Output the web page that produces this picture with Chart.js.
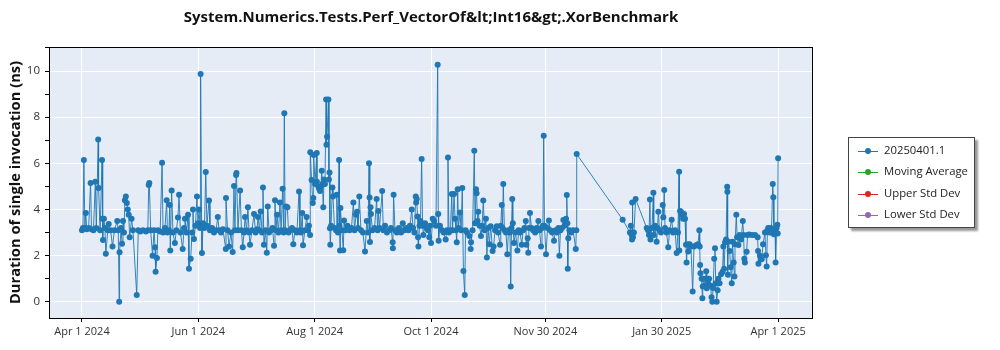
<!DOCTYPE html>
<html>
<head>
<meta charset="utf-8">
<script src="https://cdn.jsdelivr.net/npm/chart.js@4.4.1/dist/chart.umd.min.js"></script>
<style>
  body { margin: 0; background: #fff; }
  #wrap { position: relative; width: 1000px; height: 350px; }
  #legend {
    position: absolute; left: 848px; top: 137px; width: 125px; height: 89px;
    border: 1px solid #444; background: #fff; box-shadow: 3px 3px 2px #999;
    font-family: "Open Sans", sans-serif; font-size: 11.3px; color: #222;
  }
  .item { position: absolute; left: 9px; height: 14px; line-height: 14px; }
  .item .ln { position: absolute; left: 0; top: 7px; width: 20px; height: 1px; }
  .item .dt { position: absolute; left: 7px; top: 4px; width: 6px; height: 6px; border-radius: 3px; }
  .item span { position: absolute; left: 26px; top: -1px; white-space: nowrap; }
</style>
</head>
<body>
<div id="wrap">
  <canvas id="chart" width="1000" height="350"></canvas>
  <div id="legend"></div>
</div>
<script>
// days since Apr 1 2024, and duration in ns
const days = [
  0, 0.5, 1, 1.5, 2, 2.5, 3.5, 4.5, 5, 6, 7, 7.5, 8.5, 8.7, 9.5, 10.5, 10.7, 11, 11.5, 12, 12.5, 13.5, 14, 15, 16, 17, 18.5, 19, 19.5, 19.7,
  20.5, 21, 21.5, 22, 22.5, 23, 23.5, 24, 24.5, 25, 26, 26.7, 28.7, 29.5, 30.5, 32, 33.5, 34.5, 35, 35.3, 36, 37, 37.8, 38.3, 38.6, 39.3, 39.8, 41, 42, 42.5,
  43.5, 44.4, 44.8, 45.6, 46, 46.3, 47, 47.7, 48.7, 49.5, 50.3, 50.9, 51.6, 52.8, 53.5, 54, 54.8, 55.6, 56.1, 57, 57.7, 58.2, 58.7, 59.5, 60.3, 60.8, 61.4, 61.9, 62.2, 62.7,
  62.9, 63.5, 64.2, 64.9, 65.5, 66.6, 67.1, 68.2, 69.2, 70.3, 71.2, 71.9, 72.9, 73.9, 75.4, 75.5, 76.3, 77.1, 78.1, 79, 79.7, 80.2, 80.8, 81, 81.8, 82.9, 83.6, 84.3, 85, 85.5,
  86.3, 87, 87.6, 88.1, 89.1, 90.2, 91, 91.8, 92.3, 93.1, 93.7, 94.4, 94.9, 95.4, 96.2, 96.9, 97.4, 98.1, 99.1, 99.9, 100.7,
  101.2, 101.7, 102.3, 103, 103.8, 104.4, 105.2, 105.7, 106.1, 106.5, 107, 107.7, 108.3, 109.1, 110.1, 110.8, 111.7, 112.7, 113.8, 114.3, 114.8, 115.5, 115.9, 116.9, 117.8,
  118.5, 119, 119.6, 119.7, 120.4, 121, 121.3, 121.5, 122.2, 123.1, 123.2, 123.9, 124.3, 124.8, 125.3, 125.7, 126.1, 126.5, 126.9, 127.4, 128, 128.2, 128.5, 129.2, 129.5,
  129.8, 130, 130.2, 130.6, 131.3, 131.6, 132.4, 133.2, 133.6, 134.2, 134.8, 135, 135.3, 135.5, 136.3, 137, 137.4, 138.1, 139.2, 140.3, 141.3, 142.3, 142.9, 143.7, 144.2,
  144.7, 145.4, 146.3, 147.3, 148.4, 149.3, 150, 150.5, 150.8, 151, 151.3, 151.5, 152.3, 153.4, 154.5, 155, 155.4, 156, 157.4,
  158, 158.9, 159.9, 161, 162, 162.9, 163, 163.4, 164.1, 165.1, 166.2, 167.3, 168.2, 169.1, 170.2, 171.2, 172, 172.9, 173.6, 174.3, 175, 175.2, 175.5, 175.9, 176.2, 176.4,
  177, 177.5, 178.1, 178.6, 179, 179.9, 180.6, 181.4, 182.1, 182.5, 183, 183.9, 184.6, 185.6, 186.5, 186.8, 187, 187.7, 188.8, 189.6, 190.7, 191.4, 191.9, 192.4, 193.2,
  193.9, 194.3, 195.1, 195.6, 196.1, 196.5, 197, 197.4, 198.2, 198.8, 199.4, 200, 200.7, 201.1, 201.9, 203.1, 203.8, 204, 204.8, 205.7, 206.1, 206.6, 206.9, 207.4, 207.8,
  208.5, 209.2, 209.8, 210.4, 211.1, 211.8, 212.3, 212.9, 213.6, 214.3, 215.3, 215.8,
  216.6, 217.5, 218.2, 219.2, 219.6, 220.1, 220.5, 220.9, 221.5, 222.3, 223, 223.6, 224.4, 224.8, 225.2, 225.6, 225.9, 226.5, 227.3, 228.3, 228.9, 229.7, 230.6, 231.3, 232,
  232.7, 233, 233.7, 234, 234.4, 234.9, 235.7, 236.5, 237.6, 238.4, 239.3, 239.9, 240.7, 241.2, 241.7, 242.1, 242.5, 243.3, 244.1, 244.8, 245.6, 246.5, 247.5, 248.3, 249.1,
  249.8, 250.3, 250.9, 251.7, 252.4, 253, 253.8, 254.2, 254.5, 254.7, 255, 255.6, 256.5, 257.5, 258.9, 259.2, 259.4,
  283.5, 287.3, 287.8, 288.2, 288.4, 288.5, 288.9, 289.4, 290.3, 296.1, 296.8, 297.3, 297.8, 298.1, 298.9, 299.6, 299.8, 300.5, 301.3, 301.8, 302.2, 302.8, 303.6, 304.5,
  304.8, 305.3, 305.7, 306.5, 307.4, 308.1, 309.2, 309.9, 311, 311.8, 312.5, 313.1, 313.2, 313.6, 314.1, 314.6, 315.2, 315.7, 316.2, 316.7, 317, 317.5, 317.9, 318.6, 319.3,
  320.2, 320.9, 322, 323, 323.7, 323.9, 324.1, 324.3, 324.9, 325.3, 325.5, 325.9, 326.4, 327, 327.3, 327.6, 328.3, 328.8, 329.6, 330.1, 330.5, 330.9, 331.5, 331.9, 332.3,
  332.8, 333.3, 333.7, 334.3, 335.1, 335.9, 336.3, 336.7, 337.2, 337.7, 338.3, 338.4, 338.7, 338.9, 339.6, 340.1, 340.7, 341.1, 341.7, 342.1, 342.4, 343.1, 343.5, 344.2,
  344.8, 345.6, 346.5, 346.9, 347.3, 347.6, 348.5, 349, 349.8, 351.3, 352.9, 354.3, 354.5, 354.7, 355.5, 356.4, 357.1, 358.1, 358.6, 359, 359.4, 359.8, 360.5, 361.1, 361.5,
  362.2, 362.5, 362.8, 363.4, 363.7, 364.2, 364.6, 364.8, 365
];
const durations = [
  3.1, 3.2, 6.15, 3.2, 3.85, 3.15, 3.2, 5.15, 3.15, 3.1, 5.2, 3.2, 7.03, 4.93, 3.1, 6.15, 3.6, 2.68, 3.6, 3.2, 2.08, 3.1, 3.37, 3.1, 2.4, 3.1, 3.5, 3.1, 0.0, 2.15,
  3.2, 2.52, 3.5, 3.0, 4.4, 4.56, 4.28, 4.0, 3.77, 2.8, 3.6, 3.1, 0.3, 3.1, 3.05, 3.1, 3.05, 3.1, 5.06, 5.15, 3.1, 2.0, 3.1, 2.37, 1.3, 1.9, 3.1, 3.05, 6.03, 3.0,
  3.2, 4.4, 3.0, 3.1, 4.2, 2.22, 4.82, 3.0, 2.55, 3.1, 3.65, 4.64, 3.0, 2.29, 3.2, 3.6, 3.0, 3.77, 1.43, 1.87, 3.0, 4.0, 2.72, 3.3, 4.56, 3.4, 4.0, 3.2, 9.87, 3.3,
  2.12, 3.4, 3.2, 5.63, 3.3, 4.39, 3.1, 3.2, 3.0, 3.1, 3.68, 3.1, 3.0, 3.15, 2.29, 4.5, 3.1, 2.4, 3.0, 2.16, 5.02, 3.1, 5.5, 5.58, 3.1, 4.82, 3.1, 2.37, 3.0, 3.68,
  3.1, 4.1, 3.0, 2.47, 3.1, 3.8, 3.0, 3.15, 3.68, 3.1, 3.91, 3.0, 4.95, 2.47, 3.1, 2.13, 4.13, 3.0, 3.1, 3.2, 2.43,
  4.4, 3.1, 3.77, 3.0, 4.3, 3.1, 4.9, 3.0, 8.17, 3.1, 4.13, 4.1, 3.0, 3.1, 3.2, 2.5, 3.1, 3.0, 4.78, 3.1, 3.0, 3.85, 2.45, 3.1, 3.68,
  3.1, 3.3, 2.9, 6.48, 5.28, 4.28, 4.5, 6.36, 5.1, 6.45, 5.2, 5.0, 4.9, 4.8, 5.0, 5.68, 5.1, 4.1, 5.3, 5.1, 8.77, 6.8, 7.15, 8.77, 5.3,
  5.6, 3.19, 2.47, 3.3, 4.95, 4.56, 3.2, 3.1, 4.64, 3.0, 6.15, 3.3, 2.22, 4.07, 3.1, 2.24, 3.52, 3.1, 3.3, 3.1, 3.2, 4.3, 3.1, 3.77, 3.9,
  3.2, 4.56, 3.1, 3.0, 2.18, 3.5, 3.0, 6.0, 4.52, 2.59, 4.1, 3.8, 3.1, 3.2, 4.46, 3.1, 3.93, 3.2, 4.8,
  3.1, 3.3, 3.0, 3.1, 3.2, 2.58, 2.32, 4.64, 3.1, 3.0, 3.2, 3.0, 3.4, 3.1, 3.2, 3.1, 3.3, 4.0, 3.2, 3.0, 4.56, 4.3, 4.45, 3.7, 2.8, 2.4,
  3.3, 3.5, 6.19, 3.3, 2.9, 3.4, 3.2, 3.1, 2.8, 3.3, 2.55, 3.6, 3.5, 3.3, 10.27, 3.8, 2.65, 3.3, 3.1, 3.0, 2.7, 3.1, 6.25, 3.0, 3.1,
  4.67, 3.1, 4.67, 3.6, 3.1, 2.58, 4.88, 3.2, 3.87, 3.1, 4.93, 1.34, 0.3, 3.1, 3.0, 2.85, 2.29, 2.58, 3.1, 6.55, 3.4, 4.88, 4.7, 3.5, 3.9,
  3.3, 2.85, 3.3, 4.39, 3.1, 3.6, 1.92, 3.2, 2.5, 3.27, 2.2, 2.4,
  3.1, 3.27, 3.0, 2.47, 3.3, 4.2, 3.2, 5.1, 3.1, 3.0, 2.06, 3.1, 3.0, 0.66, 3.2, 4.46, 3.4, 2.55, 3.0, 2.22, 3.1, 3.0, 2.47, 3.1, 3.2,
  3.5, 2.47, 2.75, 2.13, 3.2, 3.85, 3.2, 3.1, 3.0, 3.2, 3.5, 3.1, 2.4, 3.2, 3.3, 7.2, 3.3, 2.06, 3.2, 3.52, 3.1, 3.0, 2.65, 3.1, 3.0,
  3.2, 2.0, 3.1, 3.2, 3.55, 3.3, 3.6, 4.63, 3.4, 1.43, 2.75, 3.1, 3.0, 3.1, 2.29, 3.1, 6.4,
  3.56, 3.0, 3.3, 2.9, 2.7, 4.3, 2.8, 3.0, 4.45, 3.2, 3.1, 2.9, 4.43, 2.7, 3.2, 4.73, 2.9, 3.3, 2.6, 3.2, 3.9, 3.1, 3.0, 4.2,
  3.67, 4.85, 3.2, 3.0, 2.37, 3.1, 3.56, 3.0, 3.1, 2.12, 3.0, 5.64, 2.22, 3.93, 3.9, 3.77, 3.6, 3.8, 3.6, 2.47, 1.7, 2.5, 2.18, 2.5, 2.4,
  0.45, 2.4, 2.45, 2.5, 3.1, 2.4, 1.6, 1.24, 1.0, 0.16, 0.66, 1.0, 0.7, 1.0, 1.32, 0.59, 0.8, 1.0, 0.7, 0.2, 0.0, 0.6, 1.87, 2.32, 0.8,
  0.0, 0.5, 1.0, 0.8, 1.2, 1.3, 2.4, 1.43, 2.58, 2.7, 4.99, 4.77, 1.17, 2.6, 2.2, 1.5, 0.81, 2.6, 1.7, 1.1, 2.5, 3.77, 2.8, 2.46,
  2.9, 2.7, 3.5, 2.9, 1.87, 1.7, 2.17, 2.9, 2.92, 2.9, 2.9, 2.8, 2.2, 1.65, 2.0, 1.84, 2.5, 3.0, 2.02, 1.53, 3.1, 3.2, 3.0, 3.2, 3.0,
  5.1, 4.53, 2.93, 3.0, 1.7, 3.2, 3.34, 2.96, 6.22
];

const tickDays = [0, 61, 122, 183, 243, 304, 365];
const tickLabels = ['Apr 1 2024', 'Jun 1 2024', 'Aug 1 2024', 'Oct 1 2024', 'Nov 30 2024', 'Jan 30 2025', 'Apr 1 2025'];

const chartTitle = 'System.Numerics.Tests.Perf_VectorOf&lt;Int16&gt;.XorBenchmark';
const legendNames = ['20250401.1', 'Moving Average', 'Upper Std Dev', 'Lower Std Dev'];
const legendColors = ['#1f77b4', '#2ca02c', '#d62728', '#9467bd'];

const points = days.map((d, i) => ({ x: d, y: durations[i] }));

// plot background, frame and a title centred over the plot area
const plotFrame = {
  id: 'plotFrame',
  beforeDraw(chart) {
    const a = chart.chartArea, c = chart.ctx;
    c.save();
    c.fillStyle = '#e5ecf6';
    c.fillRect(a.left, a.top, a.right - a.left, a.bottom - a.top);
    c.restore();
  },
  afterDraw(chart) {
    const a = chart.chartArea, c = chart.ctx;
    c.save();
    c.strokeStyle = '#000';
    c.lineWidth = 1;
    c.strokeRect(a.left + 0.5, a.top + 0.5, a.right - a.left - 1, a.bottom - a.top);
    c.fillStyle = '#111';
    c.font = 'bold 15px "Open Sans"';
    c.textAlign = 'center';
    c.textBaseline = 'middle';
    c.fillText(chartTitle, (a.left + a.right) / 2, 18);
    c.restore();
  }
};

new Chart(document.getElementById('chart'), {
  type: 'line',
  data: {
    datasets: [{
      label: legendNames[0],
      data: points,
      borderColor: 'rgba(31,119,180,0.9)',
      backgroundColor: '#1f77b4',
      borderWidth: 1,
      pointRadius: 3,
      pointBorderWidth: 0,
      pointBackgroundColor: '#1f77b4',
      tension: 0
    }]
  },
  plugins: [plotFrame],
  options: {
    responsive: false,
    animation: false,
    layout: { padding: { left: 0, right: 187, top: 47, bottom: 0 } },
    plugins: {
      legend: { display: false },
      tooltip: { enabled: false },
      title: { display: false }
    },
    scales: {
      x: {
        type: 'linear',
        min: -17.3,
        max: 383.3,
        afterBuildTicks(scale) {
          scale.ticks = tickDays.map(v => ({ value: v }));
        },
        afterFit(scale) { scale.height = 32; },
        ticks: {
          autoSkip: false,
          maxRotation: 0,
          padding: 3,
          color: '#333',
          font: { family: 'Open Sans', size: 11 },
          callback: (v) => tickLabels[tickDays.indexOf(v)]
        },
        grid: { color: '#ffffff', lineWidth: 1, tickColor: '#000', tickLength: 4, drawOnChartArea: true },
        border: { display: false }
      },
      y: {
        min: -0.7,
        max: 11.04,
        afterBuildTicks(scale) {
          const t = [];
          for (let v = 0; v <= 11; v += 1) t.push({ value: v });
          scale.ticks = t;
        },
        afterFit(scale) { scale.width = 49; },
        ticks: {
          autoSkip: false,
          padding: 5,
          color: '#333',
          font: { family: 'Open Sans', size: 11.5 },
          callback: (v) => (v % 2 === 0 ? String(v) : '')
        },
        grid: {
          color: (ctx) => (ctx.tick && ctx.tick.value % 2 === 0 ? '#ffffff' : 'rgba(0,0,0,0)'),
          tickColor: '#000',
          tickLength: 4
        },
        border: { display: false },
        title: {
          display: true,
          text: 'Duration of single invocation (ns)',
          color: '#111',
          font: { family: 'Open Sans', size: 14.7, weight: 'bold' },
          padding: { top: 7, bottom: 0 }
        }
      }
    }
  }
});

// legend box
const legend = document.getElementById('legend');
legendNames.forEach((name, i) => {
  const item = document.createElement('div');
  item.className = 'item';
  item.style.top = (6 + i * 21.3) + 'px';
  item.innerHTML = '<div class="ln" style="background:' + legendColors[i] + '"></div>' +
    '<div class="dt" style="background:' + legendColors[i] + '"></div><span>' + name + '</span>';
  legend.appendChild(item);
});
</script>
</body>
</html>
